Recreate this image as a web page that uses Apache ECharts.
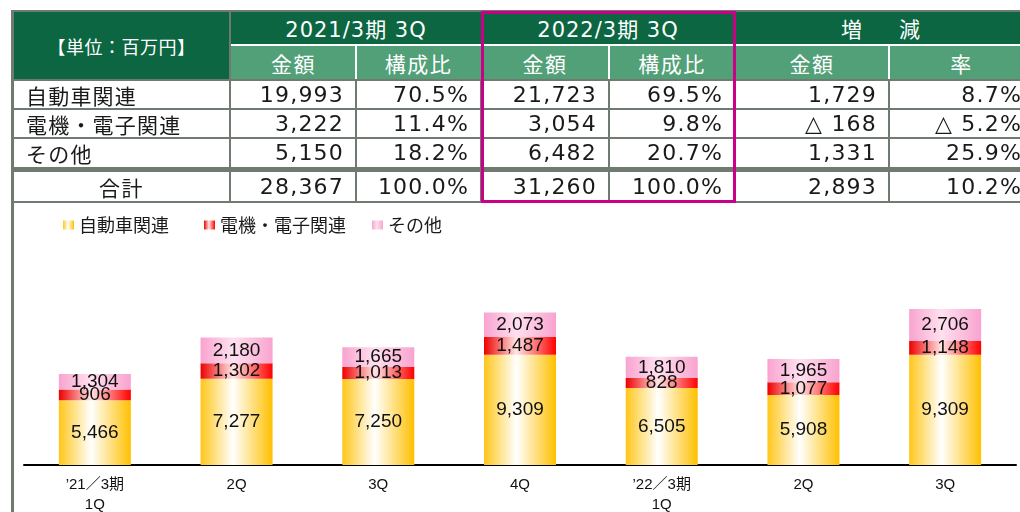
<!DOCTYPE html>
<html><head><meta charset="utf-8">
<script src="https://cdn.jsdelivr.net/npm/echarts@6/dist/echarts.min.js"></script>
<style>
html,body{margin:0;padding:0;background:#fff;overflow:hidden;width:1020px;height:512px;}
#chart{position:absolute;left:0;top:0;width:1020px;height:512px;}
#tbl{position:absolute;left:0;top:0;width:1020px;height:512px;overflow:hidden;pointer-events:none;}
.r{position:absolute;}
.t{position:absolute;display:flex;align-items:center;white-space:nowrap;box-sizing:border-box;}
</style></head><body>
<div id="chart"></div>
<div id="tbl"></div>
<script>
// ---- chart data ----
const categories = ["’21／3期\n1Q", "2Q", "3Q", "4Q", "’22／3期\n1Q", "2Q", "3Q"];
const seriesNames = ["自動車関連", "電機・電子関連", "その他"];
const autoValues = [5466, 7277, 7250, 9309, 6505, 5908, 9309];
const elecValues = [906, 1302, 1013, 1487, 828, 1077, 1148];
const otherValues = [1304, 2180, 1665, 2073, 1810, 1965, 2706];

// ---- table data ----
const unitLabel = "【単位：百万円】";
const periodHeaders = ["2021/3期 3Q", "2022/3期 3Q", "増　減"];
const subHeaders = ["金額", "構成比", "金額", "構成比", "金額", "率"];
const rowLabels = ["自動車関連", "電機・電子関連", "その他", "合計"];
const amount2021 = ["19,993", "3,222", "5,150", "28,367"];
const ratio2021 = ["70.5%", "11.4%", "18.2%", "100.0%"];
const amount2022 = ["21,723", "3,054", "6,482", "31,260"];
const ratio2022 = ["69.5%", "9.8%", "20.7%", "100.0%"];
const diffAmount = ["1,729", "△ 168", "1,331", "2,893"];
const diffRate = ["8.7%", "△ 5.2%", "25.9%", "10.2%"];

// ---- table layout ----
const tbl = document.getElementById('tbl');
const G = '#6f7a71', DG = '#0b6641', LG = '#51a077', MG = '#cc0088';
const X = [12, 231, 356, 481, 609, 735, 889, 1034];
const rowBands = [[80, 109], [109, 138], [138, 167], [172, 201]];
const CJK = "'Noto Sans CJK JP'";
const NUM = "'DejaVu Sans','Noto Sans CJK JP'";
function rect(x, y, w, h, c) {
  const d = document.createElement('div'); d.className = 'r';
  Object.assign(d.style, {left: x + 'px', top: y + 'px', width: w + 'px', height: h + 'px', background: c});
  tbl.appendChild(d); return d;
}
function text(x, y, w, h, s, o) {
  const d = document.createElement('div'); d.className = 't'; d.textContent = s;
  Object.assign(d.style, {left: x + 'px', top: y + 'px', width: w + 'px', height: h + 'px',
    justifyContent: o.align || 'center', color: o.color || '#1a1a1a', fontFamily: o.font || CJK,
    fontSize: (o.size || 20) + 'px', letterSpacing: (o.ls || 0) + 'px',
    paddingLeft: (o.pl || 0) + 'px', paddingRight: (o.pr || 0) + 'px'});
  tbl.appendChild(d); return d;
}
// backgrounds
rect(12, 11, 1022, 69, DG);
rect(231, 45, 803, 35, LG);
rect(231, 44, 803, 2, '#fff');
[356, 609, 889].forEach(x => rect(x - 1, 45, 2, 35, '#fff'));
// grey rules
rect(12, 10, 1022, 2, G);
rect(11, 10, 3, 502, G);
rect(229, 10, 2, 193, G);
rect(12, 79, 1022, 2, G);
rect(12, 108, 1022, 2, G);
rect(12, 137, 1022, 2, G);
rect(12, 167, 1022, 5, G);
rect(12, 201, 1022, 2, G);
[356, 481, 609, 735, 889].forEach(x => rect(x - 1, 80, 2, 123, G));
// magenta frame
const box = rect(481, 11, 255, 192, 'transparent');
box.style.border = '3px solid ' + MG; box.style.boxSizing = 'border-box';
// header text
text(12, 11, 219, 69, unitLabel, {color: '#fff', size: 18, ls: 0.5});
text(231, 11, 250, 33, periodHeaders[0], {color: '#fff', font: NUM, size: 21, ls: 1});
text(481, 11, 254, 33, periodHeaders[1], {color: '#fff', font: NUM, size: 21, ls: 1});
text(735, 11, 299, 33, periodHeaders[2], {color: '#fff', size: 21, ls: 8});
subHeaders.forEach((s, i) => text(X[i + 1], 46, X[i + 2] - X[i + 1], 34, s, {color: '#fff', size: 21, ls: 1.5}));
// body
const cols = [amount2021, ratio2021, amount2022, ratio2022, diffAmount, diffRate];
rowBands.forEach(([y0, y1], r) => {
  const isTotal = r === rowLabels.length - 1;
  text(X[0], y0, X[1] - X[0], y1 - y0, rowLabels[r],
    isTotal ? {size: 21, ls: 1.5} : {align: 'flex-start', pl: 14, size: 21, ls: 1.2});
  cols.forEach((c, i) => text(X[i + 1], y0, X[i + 2] - X[i + 1], y1 - y0, c[r],
    {align: 'flex-end', pr: 12, font: NUM, size: 22, ls: 1.2}));
});

// ---- chart ----
const chart = echarts.init(document.getElementById('chart'), null, {renderer: 'canvas'});
const grad = (a, b, c) => new echarts.graphic.LinearGradient(0, 0, 1, 0, [
  {offset: 0, color: a}, {offset: 0.45, color: b}, {offset: 1, color: c}]);
const colors = [grad('#ffc61a', '#ffffff', '#ffc000'), grad('#ee0000', '#ffe4e4', '#ff0000'), grad('#f9a3cf', '#ffe0ef', '#f9a3cf')];
const legendLefts = [63, 204, 372];
const fmt = p => Number(p.value).toLocaleString('en-US');
const dataSets = [autoValues, elecValues, otherValues];
chart.setOption({
  animation: false,
  backgroundColor: '#fff',
  legend: seriesNames.map((n, i) => ({
    data: [n], left: legendLefts[i], top: 216, padding: 0, icon: 'rect', itemWidth: 11, itemHeight: 9,
    textStyle: {fontSize: 18, color: '#1a1a1a', fontFamily: 'Noto Sans CJK JP'}
  })),
  grid: {left: 24, right: 4, top: 228, bottom: 47, containLabel: false, outerBoundsMode: 'none'},
  xAxis: {
    type: 'category', data: categories,
    axisLine: {lineStyle: {color: '#000', width: 2}},
    axisTick: {inside: true, length: 6, lineStyle: {color: '#000', width: 1.5}},
    axisLabel: {color: '#111', fontSize: 15, lineHeight: 20, margin: 10, fontFamily: 'Liberation Sans, Noto Sans CJK JP'}
  },
  yAxis: {type: 'value', min: 0, max: 20000, show: false, splitLine: {show: false}},
  series: seriesNames.map((n, i) => ({
    name: n, type: 'bar', stack: 'total', barWidth: 72, data: dataSets[i],
    itemStyle: {color: colors[i]},
    label: {show: true, position: 'inside', color: '#111', fontSize: 19, fontFamily: 'Liberation Sans', formatter: fmt}
  }))
});
</script>
</body></html>
